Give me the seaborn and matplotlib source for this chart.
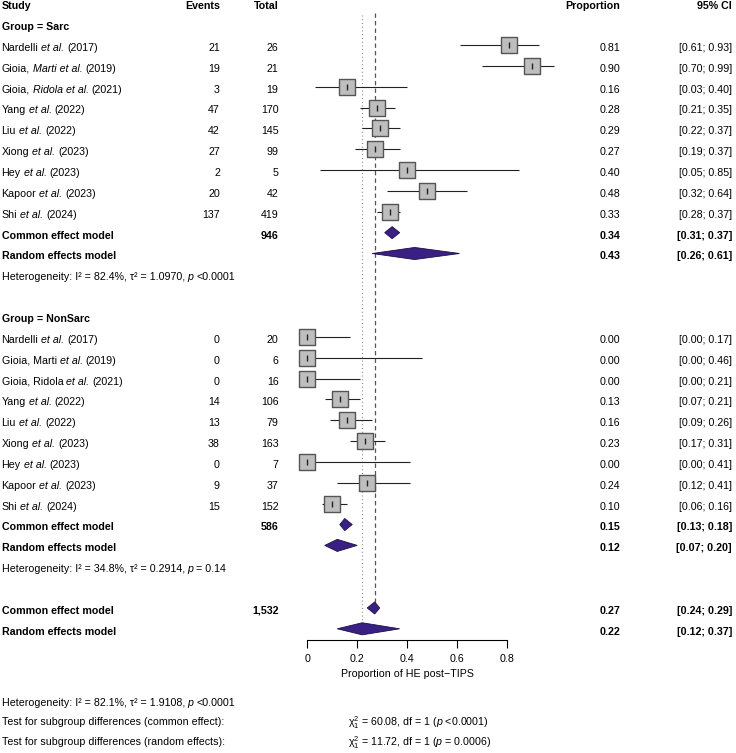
import numpy as np
import pandas as pd
import matplotlib
matplotlib.use("Agg")
import matplotlib.pyplot as plt
import seaborn as sns
from matplotlib.transforms import blended_transform_factory

# ---------------- data ----------------
# '*' marks italic parts
sarc_studies = ["Nardelli *et al.* (2017)",
                "Gioia, *Marti et al.* (2019)",
                "Gioia, *Ridola et al.* (2021)",
                "Yang *et al.* (2022)",
                "Liu *et al.* (2022)",
                "Xiong *et al.* (2023)",
                "Hey *et al.* (2023)",
                "Kapoor *et al.* (2023)",
                "Shi *et al.* (2024)"]
sarc_events = [21, 19, 3, 47, 42, 27, 2, 20, 137]
sarc_total = [26, 21, 19, 170, 145, 99, 5, 42, 419]
sarc_prop = [0.81, 0.90, 0.16, 0.28, 0.29, 0.27, 0.40, 0.48, 0.33]
sarc_lower = [0.61, 0.70, 0.03, 0.21, 0.22, 0.19, 0.05, 0.32, 0.28]
sarc_upper = [0.93, 0.99, 0.40, 0.35, 0.37, 0.37, 0.85, 0.64, 0.37]
sarc_common = [0.34, 0.31, 0.37]
sarc_random = [0.43, 0.26, 0.61]
sarc_common_total = "946"
sarc_het = "Heterogeneity: I² = 82.4%, τ² = 1.0970, *p* <0.0001"

nonsarc_studies = ["Nardelli *et al.* (2017)",
                   "Gioia, Marti *et al.* (2019)",
                   "Gioia, Ridola *et al.* (2021)",
                   "Yang *et al.* (2022)",
                   "Liu *et al.* (2022)",
                   "Xiong *et al.* (2023)",
                   "Hey *et al.* (2023)",
                   "Kapoor *et al.* (2023)",
                   "Shi *et al.* (2024)"]
nonsarc_events = [0, 0, 0, 14, 13, 38, 0, 9, 15]
nonsarc_total = [20, 6, 16, 106, 79, 163, 7, 37, 152]
nonsarc_prop = [0.00, 0.00, 0.00, 0.13, 0.16, 0.23, 0.00, 0.24, 0.10]
nonsarc_lower = [0.00, 0.00, 0.00, 0.07, 0.09, 0.17, 0.00, 0.12, 0.06]
nonsarc_upper = [0.17, 0.46, 0.21, 0.21, 0.26, 0.31, 0.41, 0.41, 0.16]
nonsarc_common = [0.15, 0.13, 0.18]
nonsarc_random = [0.12, 0.07, 0.20]
nonsarc_common_total = "586"
nonsarc_het = "Heterogeneity: I² = 34.8%, τ² = 0.2914, *p* = 0.14"

overall_common = [0.27, 0.24, 0.29]
overall_random = [0.22, 0.12, 0.37]
overall_common_total = "1,532"
overall_het = "Heterogeneity: I² = 82.1%, τ² = 1.9108, *p* <0.0001"
test_labels = ["Test for subgroup differences (common effect):",
               "Test for subgroup differences (random effects):"]
test_values = [r"$\mathregular{χ}_{1}^{2}$ = 60.08, df = 1 ($\mathit{p}$ <0.0001)",
               r"$\mathregular{χ}_{1}^{2}$ = 11.72, df = 1 ($\mathit{p}$ = 0.0006)"]

x_ticks = [0, 0.2, 0.4, 0.6, 0.8]
x_ticklabels = ["0", "0.2", "0.4", "0.6", "0.8"]
x_label = "Proportion of HE post\u2212TIPS"

# ---------------- style ----------------
sns.set_theme(style="white")
plt.rcParams['font.family'] = ['Liberation Sans', 'DejaVu Sans']
plt.rcParams['mathtext.fontset'] = 'custom'
plt.rcParams['mathtext.rm'] = 'Liberation Sans'
plt.rcParams['mathtext.it'] = 'Liberation Sans:italic'
plt.rcParams['mathtext.bf'] = 'Liberation Sans:bold'

FS = 7.7
W, H = 736, 753
ROW0, ROWH = 3.3, 20.85         # pixel layout of rows
AXIS_Y = 639.5                  # pixel y of x axis line
X0PX, X8PX = 307.3, 507.0       # pixel x of 0 and 0.8

fig = plt.figure(figsize=(W / 100, H / 100), dpi=100)
renderer = fig.canvas.get_renderer()
left = X0PX / W
width = (X8PX - X0PX) / W
bottom = (H - AXIS_Y) / H
ax = fig.add_axes([left, bottom, width, 1 - bottom])
ax.set_xlim(0, 0.8)
r_bottom = (AXIS_Y - ROW0) / ROWH
r_top = (0 - ROW0) / ROWH
ax.set_ylim(r_bottom, r_top)

# rows layout
sarc_rows = list(range(2, 11))
nonsarc_rows = list(range(16, 25))
df = pd.DataFrame({
    "study": sarc_studies + nonsarc_studies,
    "events": sarc_events + nonsarc_events,
    "total": sarc_total + nonsarc_total,
    "prop": sarc_prop + nonsarc_prop,
    "lower": sarc_lower + nonsarc_lower,
    "upper": sarc_upper + nonsarc_upper,
    "row": sarc_rows + nonsarc_rows,
})

# CI lines
ax.hlines(df["row"], df["lower"], df["upper"], color="#222222", lw=0.8,
          zorder=2, clip_on=False)
# squares
sns.scatterplot(data=df, x="prop", y="row", marker="s", s=128,
                color="#BEBEBE", edgecolor="#555555", linewidth=1.0,
                ax=ax, legend=False, zorder=3, clip_on=False)
# estimate tick inside square
ax.scatter(df["prop"], df["row"], marker="|", s=16, color="#222222",
           linewidths=1.0, zorder=4, clip_on=False)

# diamonds
models = [(sarc_common, 11), (sarc_random, 12),
          (nonsarc_common, 25), (nonsarc_random, 26),
          (overall_common, 29), (overall_random, 30)]
HH = 0.29
for (est, lo, hi), r in models:
    ax.fill([lo, est, hi, est], [r, r - HH, r, r + HH],
            facecolor="#3A2083", edgecolor="#1C1045", lw=0.6,
            zorder=3, clip_on=False)

# reference lines
ax.vlines(overall_common[0], 0.45, 29 - HH, colors="#555555", lw=0.9,
          linestyles=(0, (3.5, 2.5)), zorder=1)
ax.vlines(overall_random[0], 0.55, 30 - HH, colors="#888888", lw=0.9,
          linestyles=(0, (0.8, 2.2)), zorder=1)

# axes styling
ax.set_yticks([])
ax.set_ylabel("")
for s in ["top", "left", "right"]:
    ax.spines[s].set_visible(False)
ax.spines["bottom"].set_color("black")
ax.spines["bottom"].set_linewidth(0.8)
ax.set_xticks(x_ticks)
ax.set_xticklabels(x_ticklabels)
ax.tick_params(axis="x", bottom=True, direction="out", length=5.5, width=0.8,
               color="black", pad=5.0, labelsize=FS, labelcolor="black")
ax.set_xlabel(x_label, fontsize=FS, labelpad=3.5, color="black")
ax.patch.set_alpha(0)

# ---------------- text columns ----------------
tr = blended_transform_factory(fig.transFigure, ax.transData)
DY = 0.14


def txt(xpx, row, s, ha="left", bold=False, style="normal"):
    return ax.text(xpx / W, row + DY, s, transform=tr, ha=ha, va="center",
                   fontsize=FS, fontweight="bold" if bold else "normal",
                   fontstyle=style, color="black", clip_on=False)


def width_of(s, style="normal"):
    t = fig.text(0, 0, s, fontsize=FS, fontstyle=style)
    w = t.get_window_extent(renderer=renderer).width
    t.remove()
    return w


SP = width_of("x x") - width_of("xx")


def rich(xpx, row, s):
    x = xpx
    for i, piece in enumerate(s.split("*")):
        if not piece:
            continue
        style = "italic" if i % 2 == 1 else "normal"
        lead = len(piece) - len(piece.lstrip(" "))
        trail = len(piece) - len(piece.rstrip(" "))
        core = piece.strip(" ")
        x += lead * SP
        if core:
            t = txt(x, row, core, style=style)
            x += t.get_window_extent(renderer=renderer).width
        x += trail * SP


X_STUDY, X_EV, X_TOT, X_PROP, X_CI = 1.5, 220, 278.5, 620.5, 732

# header
txt(X_STUDY, 0, "Study", bold=True)
txt(X_EV, 0, "Events", ha="right", bold=True)
txt(X_TOT, 0, "Total", ha="right", bold=True)
txt(X_PROP, 0, "Proportion", ha="right", bold=True)
txt(X_CI, 0, "95% CI", ha="right", bold=True)

for _, rw in df.iterrows():
    r = rw["row"]
    rich(X_STUDY, r, rw["study"])
    txt(X_EV, r, f"{rw['events']}", ha="right")
    txt(X_TOT, r, f"{rw['total']}", ha="right")
    txt(X_PROP, r, f"{rw['prop']:.2f}", ha="right")
    txt(X_CI, r, f"[{rw['lower']:.2f}; {rw['upper']:.2f}]", ha="right")

groups = [("Group = Sarc", 1, sarc_common, sarc_random, sarc_common_total, sarc_het, 11),
          ("Group = NonSarc", 15, nonsarc_common, nonsarc_random, nonsarc_common_total, nonsarc_het, 25)]
for title, gr, com, ran, tot, het, cr in groups:
    txt(X_STUDY, gr, title, bold=True)
    txt(X_STUDY, cr, "Common effect model", bold=True)
    txt(X_TOT, cr, tot, ha="right", bold=True)
    txt(X_PROP, cr, f"{com[0]:.2f}", ha="right", bold=True)
    txt(X_CI, cr, f"[{com[1]:.2f}; {com[2]:.2f}]", ha="right", bold=True)
    txt(X_STUDY, cr + 1, "Random effects model", bold=True)
    txt(X_PROP, cr + 1, f"{ran[0]:.2f}", ha="right", bold=True)
    txt(X_CI, cr + 1, f"[{ran[1]:.2f}; {ran[2]:.2f}]", ha="right", bold=True)
    rich(X_STUDY, cr + 2, het)

txt(X_STUDY, 29, "Common effect model", bold=True)
txt(X_TOT, 29, overall_common_total, ha="right", bold=True)
txt(X_PROP, 29, f"{overall_common[0]:.2f}", ha="right", bold=True)
txt(X_CI, 29, f"[{overall_common[1]:.2f}; {overall_common[2]:.2f}]", ha="right", bold=True)
txt(X_STUDY, 30, "Random effects model", bold=True)
txt(X_PROP, 30, f"{overall_random[0]:.2f}", ha="right", bold=True)
txt(X_CI, 30, f"[{overall_random[1]:.2f}; {overall_random[2]:.2f}]", ha="right", bold=True)

rich(X_STUDY, 33.4, overall_het)
for i, (lab, val) in enumerate(zip(test_labels, test_values)):
    txt(X_STUDY, 34.35 + 0.95 * i, lab)
    txt(348, 34.35 + 0.95 * i, val)

fig.savefig("out.png", dpi=100)
